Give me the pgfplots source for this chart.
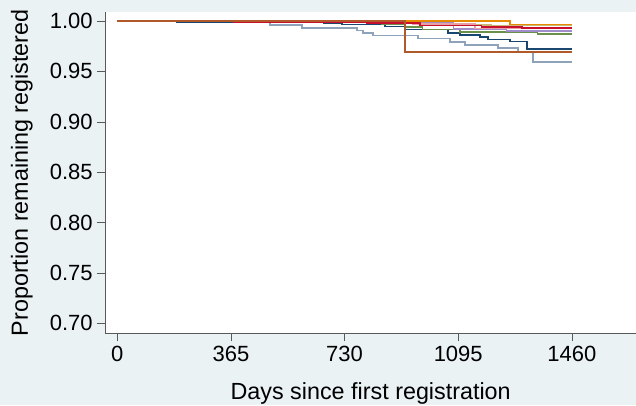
\documentclass[border=0pt]{standalone}
\usepackage{pgfplots}
\pgfplotsset{compat=1.18}
\usepackage{fontspec}
\setmainfont{Liberation Sans}
\definecolor{bgc}{HTML}{EAF2F3}
\definecolor{navy}{HTML}{1A476F}
\definecolor{bgray}{HTML}{8EA2B9}
\definecolor{sienna}{HTML}{B05A2C}
\definecolor{cran}{HTML}{C8102E}
\definecolor{dkor}{HTML}{E88A00}
\definecolor{khaki}{HTML}{C8B878}
\definecolor{fgreen}{HTML}{6A8F4A}
\definecolor{lav}{HTML}{A08CC8}
\definecolor{erose}{HTML}{E8A0A8}
\begin{document}
\begin{tikzpicture}
\fill[bgc] (-79pt,-54pt) rectangle (398pt,250pt);
\useasboundingbox (-79pt,-54pt) rectangle (398pt,250pt);
\begin{axis}[at={(0,0)},anchor=south west,
  scale only axis, width=398pt, height=241pt,
  xmin=-38.5, xmax=1666, ymin=0.690, ymax=1.0089,
  axis background/.style={fill=white},
  axis x line*=bottom, axis y line*=left,
  axis line style={gray!70!black,-},
  xtick={0,365,730,1095,1460}, ytick={0.70,0.75,...,1.001},
  xticklabel style={/pgf/number format/1000 sep={}},
  yticklabel style={/pgf/number format/.cd,fixed,fixed zerofill,precision=2},
  tick align=outside, tick style={gray!70!black},
  major tick length=6pt,
  ticklabel style={font=\fontsize{16.5}{18}\selectfont},
  /pgf/number format/assume math mode=true,
  xlabel={Days since first registration}, ylabel={Proportion remaining registered},
  label style={font=\fontsize{17.5}{19}\selectfont},
  xlabel style={yshift=-8.5pt}, ylabel style={yshift=6pt},
  every axis plot/.append style={const plot, line width=1.3pt},
  clip=false]
\addplot[bgray] coordinates {(0,1)(191,0.9985)(491,0.996)(593,0.993)(769,0.9905)(790,0.988)(822,0.9855)(966,0.9825)(1069,0.979)(1117,0.976)(1223,0.973)(1287,0.969)(1335,0.9595)(1460,0.9595)};
\addplot[navy] coordinates {(0,1)(191,0.9993)(662,0.998)(721,0.9965)(860,0.9945)(924,0.9915)(1063,0.988)(1101,0.986)(1165,0.984)(1191,0.9815)(1261,0.9795)(1315,0.9725)(1460,0.9725)};
\addplot[fgreen] coordinates {(0,1)(400,0.9985)(850,0.997)(924,0.994)(980,0.9915)(1100,0.989)(1350,0.987)(1460,0.987)};
\addplot[khaki] coordinates {(0,1)(924,0.999)(990,0.996)(1200,0.9955)(1460,0.9955)};
\addplot[lav] coordinates {(0,1)(950,0.998)(1080,0.992)(1250,0.990)(1460,0.990)};
\addplot[erose] coordinates {(0,1)(950,0.997)(1150,0.9925)(1460,0.9925)};
\addplot[dkor] coordinates {(0,1)(1261,0.9965)(1460,0.9965)};
\addplot[cran] coordinates {(0,0.9997)(373,0.999)(803,0.998)(973,0.9955)(1170,0.994)(1300,0.993)(1460,0.993)};
\addplot[sienna] coordinates {(0,1)(924,0.9695)(1460,0.9695)};
\end{axis}
\end{tikzpicture}
\end{document}
